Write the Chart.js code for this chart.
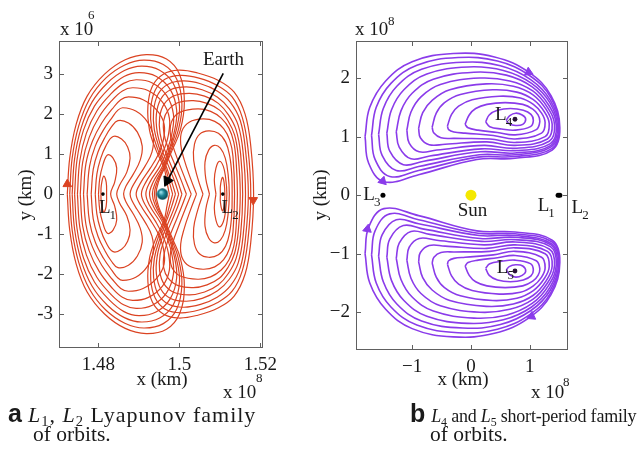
<!DOCTYPE html>
<html lang="en">
<head>
<meta charset="UTF-8">
<title>Lyapunov and short-period orbit families</title>
<script src="https://cdn.jsdelivr.net/npm/chart.js@4.4.1/dist/chart.umd.min.js"></script>
<style>
  body { margin: 0; background: #fff; }
  #page { position: relative; width: 639px; height: 450px; overflow: hidden;
          font-family: "Liberation Serif", "Times New Roman", serif; color: #1a1a1a; }
  #page canvas { position: absolute; top: 0; }
  .cap { position: absolute; line-height: 20px; white-space: nowrap; }
  .cap .tag { font-family: "Liberation Sans", Arial, sans-serif; font-weight: bold; font-size: 25px;
              line-height: 0; letter-spacing: 0; margin-right: 6px; }
  .cap sub { font-size: 0.66em; vertical-align: -4px; line-height: 0; }
  .wide { font-size: 22px; letter-spacing: 1px; top: 405px; }
  .tight { font-size: 18px; letter-spacing: -0.2px; top: 406px; }
  .second { font-size: 21.5px; top: 424px; }
</style>
</head>
<body>
<div id="page">
  <canvas id="orbitsA" width="300" height="405" style="left:0"></canvas>
  <canvas id="orbitsB" width="329" height="405" style="left:310px"></canvas>
  <div class="cap wide" style="left:8px"><span class="tag">a</span><i>L</i><sub>1</sub>, <i>L</i><sub>2</sub> Lyapunov family</div>
  <div class="cap second" style="left:33px">of orbits.</div>
  <div class="cap tight" style="left:410px"><span class="tag">b</span><i>L</i><sub>4</sub> and <i>L</i><sub>5</sub> short-period family</div>
  <div class="cap second" style="left:430px">of orbits.</div>
</div>

<script>
// ---------- panel a: x in 1e8 km, y in 1e6 km ----------
const aTicksX = [1.48, 1.50, 1.52];
const aTicksY = [-3, -2, -1, 0, 1, 2, 3];
const earth = [[1.4958, 0]];
const aLagrange = [[1.4811, 0], [1.5107, 0]];

// Upper halves, outermost first: from the far x-axis crossing, over the top,
// down to the crossing next to the Earth.
const l1Family = [
  [[1.4723,0],[1.4729,0.9],[1.4745,1.75],[1.4772,2.45],[1.4815,3.0],[1.4866,3.36],[1.4918,3.49],[1.4968,3.38],[1.5000,3.0],[1.5012,2.3],[1.5002,1.6],[1.4982,1.1],[1.4963,0.65],[1.4948,0.3],[1.4942,0]],
  [[1.4729,0],[1.4735,0.9],[1.4751,1.7],[1.4778,2.38],[1.4818,2.9],[1.4865,3.23],[1.4912,3.35],[1.4960,3.24],[1.4993,2.88],[1.5006,2.25],[1.4997,1.6],[1.4979,1.1],[1.4962,0.66],[1.4945,0.3],[1.4938,0]],
  [[1.4735,0],[1.4741,0.88],[1.4757,1.65],[1.4784,2.3],[1.4822,2.78],[1.4864,3.09],[1.4906,3.20],[1.4951,3.10],[1.4985,2.76],[1.5000,2.2],[1.4992,1.6],[1.4976,1.1],[1.4960,0.67],[1.4941,0.3],[1.4933,0]],
  [[1.4741,0],[1.4747,0.86],[1.4763,1.6],[1.4790,2.2],[1.4826,2.64],[1.4863,2.94],[1.4900,3.04],[1.4942,2.95],[1.4977,2.62],[1.4993,2.1],[1.4987,1.55],[1.4973,1.08],[1.4957,0.68],[1.4935,0.3],[1.4926,0]],
  [[1.4748,0],[1.4754,0.84],[1.4770,1.52],[1.4796,2.08],[1.4830,2.5],[1.4862,2.77],[1.4893,2.86],[1.4933,2.78],[1.4968,2.47],[1.4985,2.0],[1.4981,1.5],[1.4968,1.06],[1.4952,0.7],[1.4927,0.3],[1.4917,0]],
  [[1.4755,0],[1.4761,0.8],[1.4777,1.42],[1.4802,1.94],[1.4832,2.33],[1.4859,2.58],[1.4884,2.66],[1.4922,2.59],[1.4958,2.3],[1.4975,1.9],[1.4972,1.45],[1.4959,1.04],[1.4942,0.7],[1.4917,0.3],[1.4906,0]],
  [[1.4763,0],[1.4769,0.76],[1.4785,1.32],[1.4808,1.78],[1.4834,2.13],[1.4855,2.36],[1.4874,2.43],[1.4910,2.36],[1.4944,2.1],[1.4962,1.75],[1.4960,1.35],[1.4947,0.98],[1.4928,0.65],[1.4904,0.28],[1.4893,0]],
  [[1.4772,0],[1.4778,0.7],[1.4792,1.2],[1.4812,1.6],[1.4834,1.92],[1.4848,2.1],[1.4860,2.16],[1.4892,2.08],[1.4920,1.82],[1.4935,1.45],[1.4932,1.05],[1.4915,0.7],[1.4895,0.38],[1.4882,0.15],[1.4878,0]],
  [[1.4782,0],[1.4787,0.62],[1.4799,1.06],[1.4815,1.4],[1.4832,1.68],[1.4848,1.84],[1.4874,1.78],[1.4896,1.55],[1.4908,1.2],[1.4903,0.85],[1.4886,0.5],[1.4868,0.2],[1.4862,0]],
  [[1.4792,0],[1.4796,0.5],[1.4805,0.88],[1.4818,1.2],[1.4836,1.44],[1.4857,1.38],[1.4872,1.18],[1.4878,0.9],[1.4870,0.55],[1.4852,0.22],[1.4845,0]],
  [[1.4800,0],[1.4803,0.38],[1.4810,0.7],[1.4822,0.98],[1.4836,0.9],[1.4845,0.65],[1.4840,0.3],[1.4830,0]],
  [[1.4806,0],[1.4807,0.22],[1.4813,0.45],[1.4819,0.3],[1.4820,0]]
];

// Upper halves, outermost first: from the crossing next to the Earth,
// over the top, down to the far crossing beyond L2.
const l2Family = [
  [[1.4975,0],[1.4969,0.3],[1.4962,0.65],[1.4942,1.1],[1.4926,1.6],[1.4922,2.2],[1.4933,2.7],[1.4960,3.0],[1.4998,3.10],[1.5045,3.03],[1.5095,2.85],[1.5135,2.55],[1.5162,2.0],[1.5176,1.2],[1.5183,0]],
  [[1.4983,0],[1.4975,0.3],[1.4965,0.66],[1.4947,1.1],[1.4932,1.6],[1.4929,2.15],[1.4940,2.6],[1.4965,2.88],[1.5004,2.97],[1.5048,2.9],[1.5093,2.72],[1.5130,2.43],[1.5155,1.92],[1.5169,1.15],[1.5176,0]],
  [[1.4990,0],[1.4981,0.3],[1.4968,0.67],[1.4952,1.1],[1.4938,1.6],[1.4936,2.08],[1.4947,2.5],[1.4972,2.75],[1.5010,2.83],[1.5052,2.76],[1.5093,2.58],[1.5126,2.29],[1.5150,1.84],[1.5163,1.1],[1.5170,0]],
  [[1.4998,0],[1.4988,0.32],[1.4973,0.7],[1.4957,1.1],[1.4945,1.55],[1.4943,2.0],[1.4954,2.38],[1.4978,2.61],[1.5017,2.68],[1.5056,2.61],[1.5094,2.42],[1.5123,2.13],[1.5145,1.72],[1.5157,1.05],[1.5163,0]],
  [[1.5006,0],[1.4995,0.33],[1.4979,0.72],[1.4963,1.12],[1.4952,1.52],[1.4951,1.92],[1.4962,2.25],[1.4987,2.46],[1.5025,2.52],[1.5062,2.45],[1.5096,2.27],[1.5121,1.98],[1.5140,1.6],[1.5151,1.0],[1.5156,0]],
  [[1.5017,0],[1.5004,0.35],[1.4988,0.75],[1.4972,1.15],[1.4962,1.5],[1.4961,1.84],[1.4972,2.1],[1.4997,2.29],[1.5034,2.34],[1.5068,2.27],[1.5099,2.1],[1.5120,1.83],[1.5136,1.48],[1.5145,0.95],[1.5150,0]],
  [[1.5029,0],[1.5014,0.38],[1.4998,0.8],[1.4984,1.2],[1.4977,1.55],[1.4982,1.85],[1.5002,2.05],[1.5045,2.13],[1.5077,2.07],[1.5103,1.9],[1.5122,1.65],[1.5134,1.3],[1.5140,0.8],[1.5143,0]],
  [[1.5042,0],[1.5027,0.4],[1.5012,0.85],[1.5003,1.25],[1.5006,1.58],[1.5024,1.8],[1.5058,1.88],[1.5087,1.82],[1.5109,1.64],[1.5124,1.35],[1.5132,0.95],[1.5136,0]],
  [[1.5058,0],[1.5045,0.4],[1.5035,0.85],[1.5037,1.25],[1.5050,1.5],[1.5072,1.58],[1.5096,1.52],[1.5114,1.3],[1.5124,0.95],[1.5129,0.5],[1.5130,0]],
  [[1.5074,0],[1.5065,0.38],[1.5063,0.8],[1.5072,1.1],[1.5086,1.22],[1.5101,1.15],[1.5113,0.9],[1.5120,0.5],[1.5123,0]],
  [[1.5090,0],[1.5086,0.35],[1.5090,0.65],[1.5098,0.82],[1.5108,0.7],[1.5114,0.4],[1.5117,0]],
  [[1.5101,0],[1.5101,0.2],[1.5106,0.42],[1.5110,0.3],[1.5112,0]]
];

// direction-of-motion heads: x, y, heading in degrees (0 = up, clockwise)
const aHeads = [[1.4723, 0.25, 0], [1.5182, -0.15, 180]];
const earthPointer = [[1.5108, 3.02], [1.4970, 0.33]];
const earthPointerHead = [[1.4970, 0.33, 206]];

// ---------- panel b: x and y in 1e8 km ----------
const bTicksX = [-1, 0, 1];
const bTicksY = [-2, -1, 0, 1, 2];
const sun = [[0, 0]];
const bCollinear = [[1.481, 0], [1.511, 0], [-1.496, 0]];
const bTriangular = [[0.748, 1.296], [0.748, -1.296]];

// L4 short-period orbits, outermost first, clockwise from the leftmost point
const l4Family = [
  [[-1.80,1.00],[-1.72,1.50],[-1.45,1.95],[-1.00,2.28],[-0.30,2.42],[0.40,2.36],[0.98,2.10],[1.36,1.70],[1.51,1.15],[1.38,0.77],[0.75,0.63],[0.10,0.61],[-0.89,0.35],[-1.48,0.23],[-1.74,0.55]],
  [[-1.69,1.02],[-1.61,1.50],[-1.36,1.91],[-0.92,2.22],[-0.22,2.35],[0.45,2.29],[1.00,2.04],[1.36,1.66],[1.50,1.16],[1.38,0.80],[0.75,0.66],[0.12,0.65],[-0.89,0.42],[-1.38,0.32],[-1.63,0.61]],
  [[-1.57,1.04],[-1.49,1.48],[-1.26,1.86],[-0.84,2.15],[-0.14,2.27],[0.50,2.21],[1.02,1.97],[1.35,1.62],[1.49,1.17],[1.37,0.83],[0.75,0.69],[0.14,0.69],[-0.89,0.49],[-1.27,0.42],[-1.51,0.68]],
  [[-1.43,1.06],[-1.35,1.46],[-1.14,1.80],[-0.75,2.07],[-0.05,2.19],[0.55,2.13],[1.03,1.91],[1.34,1.58],[1.47,1.18],[1.36,0.85],[0.75,0.72],[0.16,0.74],[-0.80,0.58],[-1.15,0.52],[-1.38,0.75]],
  [[-1.27,1.08],[-1.19,1.44],[-1.00,1.74],[-0.64,1.98],[0.05,2.10],[0.60,2.05],[1.04,1.85],[1.32,1.54],[1.45,1.19],[1.35,0.88],[0.75,0.76],[0.18,0.79],[-0.70,0.67],[-1.02,0.62],[-1.22,0.82]],
  [[-1.09,1.11],[-1.02,1.42],[-0.85,1.68],[-0.52,1.89],[0.15,2.00],[0.66,1.95],[1.05,1.78],[1.30,1.50],[1.42,1.20],[1.33,0.92],[0.75,0.80],[0.22,0.85],[-0.58,0.77],[-0.88,0.74],[-1.05,0.89]],
  [[-0.89,1.14],[-0.82,1.41],[-0.66,1.62],[-0.36,1.80],[0.26,1.90],[0.72,1.86],[1.06,1.71],[1.28,1.46],[1.38,1.21],[1.30,0.96],[0.75,0.85],[0.27,0.91],[-0.44,0.87],[-0.71,0.86],[-0.86,0.98]],
  [[-0.66,1.16],[-0.59,1.40],[-0.45,1.58],[-0.18,1.72],[0.37,1.80],[0.78,1.76],[1.06,1.63],[1.25,1.42],[1.33,1.22],[1.26,1.00],[0.75,0.90],[0.32,0.96],[-0.28,0.97],[-0.51,0.98],[-0.63,1.06]],
  [[-0.40,1.18],[-0.33,1.38],[-0.21,1.52],[0.02,1.63],[0.48,1.69],[0.84,1.66],[1.06,1.55],[1.20,1.40],[1.26,1.24],[1.20,1.06],[0.75,0.96],[0.38,1.02],[-0.10,1.06],[-0.29,1.08],[-0.38,1.12]],
  [[-0.10,1.21],[-0.03,1.37],[0.08,1.48],[0.27,1.55],[0.58,1.58],[0.88,1.55],[1.05,1.47],[1.14,1.37],[1.17,1.26],[1.11,1.12],[0.75,1.03],[0.45,1.07],[0.12,1.11],[-0.05,1.15]],
  [[0.25,1.25],[0.31,1.37],[0.45,1.45],[0.67,1.48],[0.89,1.45],[1.02,1.38],[1.06,1.28],[1.01,1.17],[0.75,1.11],[0.52,1.13],[0.32,1.17]],
  [[0.60,1.28],[0.66,1.36],[0.76,1.40],[0.87,1.37],[0.93,1.30],[0.88,1.21],[0.76,1.19],[0.65,1.22]]
];
// the L5 family is the mirror image of the L4 family about the Sun-Earth line
const l5Family = l4Family.map(ring => ring.map(([x, y]) => [x, -y]));

const bHeads = [[0.98, 2.10, 115], [-1.50, 0.24, 255], [-1.76, -0.58, 10], [1.03, -2.07, 245]];

// ---------- drawing ----------
const SERIF = '"Liberation Serif", "Times New Roman", serif';
const INK = '#1a1a1a';
const RED = '#db4322';
const PURPLE = '#8a3bea';

Chart.defaults.font.family = SERIF;
Chart.defaults.font.size = 19;
Chart.defaults.color = INK;

const pts = list => list.map(([x, y]) => ({ x, y }));
// Lyapunov orbits are symmetric about y = 0: reflect the listed upper half
const fullOrbit = half => half.concat(half.slice(0, -1).reverse().map(([x, y]) => [x, -y]));
const closedRing = ring => ring.concat([ring[0]]);

const orbitLine = (list, color, width) => ({
  data: pts(list), showLine: true, borderColor: color, borderWidth: width,
  pointRadius: 0, tension: 0.4, fill: false, order: 3
});
const dots = (list, color, r, style) => ({
  data: pts(list), showLine: false, pointRadius: r, pointStyle: style || 'circle',
  pointBackgroundColor: color, pointBorderColor: color, pointBorderWidth: 0, order: 0
});
const heads = (list, color, r) => ({
  data: pts(list), showLine: false, pointStyle: 'triangle', pointRadius: r,
  pointRotation: list.map(h => h[2]),
  pointBackgroundColor: color, pointBorderColor: color, pointBorderWidth: 1, order: 1
});

// shaded sphere used as the Earth marker
function sphere(size, light, mid, dark) {
  const c = document.createElement('canvas');
  c.width = c.height = size;
  const g = c.getContext('2d');
  const r = size / 2;
  const grad = g.createRadialGradient(r * 0.7, r * 0.65, 0.5, r, r, r);
  grad.addColorStop(0, light);
  grad.addColorStop(0.45, mid);
  grad.addColorStop(1, dark);
  g.fillStyle = grad;
  g.beginPath(); g.arc(r, r, r - 0.3, 0, Math.PI * 2); g.fill();
  return c;
}

function subText(ctx, x, y, main, sub, size) {
  ctx.textAlign = 'left';
  ctx.textBaseline = 'alphabetic';
  ctx.font = size + 'px ' + SERIF;
  ctx.fillText(main, x, y);
  const w = ctx.measureText(main).width;
  ctx.font = Math.round(size * 0.7) + 'px ' + SERIF;
  ctx.fillText(sub, x + w - 1, y + size * 0.32);
}

// box, inward ticks on all four sides, annotations
const decor = {
  id: 'decor',
  afterDraw(chart, args, opts) {
    const { ctx, chartArea: a, scales: { x, y } } = chart;
    ctx.save();
    ctx.strokeStyle = '#606060';
    ctx.lineWidth = 1;
    ctx.strokeRect(a.left + 0.5, a.top + 0.5, a.right - a.left - 1, a.bottom - a.top - 1);
    ctx.beginPath();
    x.ticks.forEach(t => {
      const px = Math.round(x.getPixelForValue(t.value)) + 0.5;
      ctx.moveTo(px, a.bottom); ctx.lineTo(px, a.bottom - 5);
      ctx.moveTo(px, a.top); ctx.lineTo(px, a.top + 5);
    });
    y.ticks.forEach(t => {
      const py = Math.round(y.getPixelForValue(t.value)) + 0.5;
      ctx.moveTo(a.left, py); ctx.lineTo(a.left + 5, py);
      ctx.moveTo(a.right, py); ctx.lineTo(a.right - 5, py);
    });
    ctx.stroke();

    ctx.fillStyle = INK;
    (opts.marks || []).forEach(m => {
      const px = x.getPixelForValue(m.x), py = y.getPixelForValue(m.y);
      if (m.sub) subText(ctx, px, py, m.text, m.sub, 19);
      else {
        ctx.font = '19px ' + SERIF;
        ctx.textAlign = m.align || 'left';
        ctx.textBaseline = 'alphabetic';
        ctx.fillText(m.text, px, py);
      }
    });
    (opts.notes || []).forEach(n => {
      ctx.font = (n.size || 19) + 'px ' + SERIF;
      ctx.textAlign = n.align || 'left';
      ctx.textBaseline = 'alphabetic';
      if (n.rotate) {
        ctx.save();
        ctx.translate(n.x, n.y);
        ctx.rotate(-Math.PI / 2);
        ctx.textAlign = 'center';
        ctx.fillText(n.text, 0, 0);
        ctx.restore();
      } else {
        ctx.fillText(n.text, n.x, n.y);
      }
    });
    ctx.restore();
  }
};

function makeChart(id, cfg) {
  const tickFont = { family: SERIF, size: 19 };
  return new Chart(document.getElementById(id), {
    type: 'scatter',
    data: { datasets: cfg.datasets },
    options: {
      responsive: false,
      animation: false,
      events: [],
      layout: { padding: cfg.padding },
      plugins: { legend: { display: false }, tooltip: { enabled: false }, decor: cfg.decor },
      scales: {
        x: {
          type: 'linear', min: cfg.xRange[0], max: cfg.xRange[1],
          grid: { display: false, drawTicks: false }, border: { display: false },
          ticks: { font: tickFont, color: INK, padding: 6, maxRotation: 0, autoSkip: false, callback: cfg.fmt },
          afterBuildTicks: s => { s.ticks = cfg.xTicks.map(v => ({ value: v })); },
          afterFit: s => { s.height = 30; }
        },
        y: {
          type: 'linear', min: cfg.yRange[0], max: cfg.yRange[1],
          grid: { display: false, drawTicks: false }, border: { display: false },
          ticks: { font: tickFont, color: INK, padding: 6, autoSkip: false, callback: cfg.fmt },
          afterBuildTicks: s => { s.ticks = cfg.yTicks.map(v => ({ value: v })); },
          afterFit: s => { s.width = cfg.yWidth; }
        }
      }
    },
    plugins: [decor]
  });
}

// panel a
makeChart('orbitsA', {
  padding: { left: 0, top: 41, right: 37, bottom: 27 },
  yWidth: 59,
  xRange: [1.47025, 1.52062],
  yRange: [-3.85, 3.83],
  xTicks: aTicksX,
  yTicks: aTicksY,
  fmt: v => String(v),
  datasets: [
    ...l1Family.map(h => orbitLine(fullOrbit(h), RED, 1.2)),
    ...l2Family.map(h => orbitLine(fullOrbit(h), RED, 1.2)),
    heads(aHeads, RED, 5),
    dots(aLagrange, '#000', 1.8),
    { ...orbitLine(earthPointer, '#000', 1.6), tension: 0, order: 0 },
    heads(earthPointerHead, '#000', 6),
    dots(earth, '#17707f', 6, sphere(12, '#9fe3ee', '#1b8496', '#08404a'))
  ],
  decor: {
    marks: [
      { x: 1.4801, y: -0.475, text: 'L', sub: '1' },
      { x: 1.5104, y: -0.475, text: 'L', sub: '2' },
      { x: 1.5058, y: 3.22, text: 'Earth' }
    ],
    notes: [
      { text: 'x 10', x: 60, y: 35 },
      { text: '6', x: 88, y: 19, size: 13 },
      { text: 'x (km)', x: 162, y: 385, align: 'center' },
      { text: 'x 10', x: 223, y: 398 },
      { text: '8', x: 256, y: 382, size: 13 },
      { text: 'y (km)', x: 31, y: 195, rotate: true }
    ]
  }
});

// panel b
makeChart('orbitsB', {
  padding: { left: 0, top: 41, right: 71, bottom: 25 },
  yWidth: 46,
  xRange: [-1.954, 1.649],
  yRange: [-2.645, 2.633],
  xTicks: bTicksX,
  yTicks: bTicksY,
  fmt: v => String(v).replace('-', '\u2212'),
  datasets: [
    ...l4Family.map(r => orbitLine(closedRing(r), PURPLE, 1.6)),
    ...l5Family.map(r => orbitLine(closedRing(r), PURPLE, 1.6)),
    heads(bHeads, PURPLE, 5),
    dots(bCollinear, '#000', 2.5),
    dots(bTriangular, '#2a1238', 2.4),
    dots(sun, '#f4e800', 5.5)
  ],
  decor: {
    marks: [
      { x: -1.83, y: -0.085, text: 'L', sub: '3' },
      { x: 1.135, y: -0.27, text: 'L', sub: '1' },
      { x: 1.71, y: -0.31, text: 'L', sub: '2' },
      { x: 0.41, y: 1.28, text: 'L', sub: '4' },
      { x: 0.44, y: -1.33, text: 'L', sub: '5' },
      { x: 0.025, y: -0.36, text: 'Sun', align: 'center' }
    ],
    notes: [
      { text: 'x 10', x: 45, y: 35 },
      { text: '8', x: 78, y: 25, size: 13 },
      { text: 'x (km)', x: 153, y: 385, align: 'center' },
      { text: 'x 10', x: 221, y: 398 },
      { text: '8', x: 253, y: 386, size: 13 },
      { text: 'y (km)', x: 16, y: 195, rotate: true }
    ]
  }
});
</script>
</body>
</html>
